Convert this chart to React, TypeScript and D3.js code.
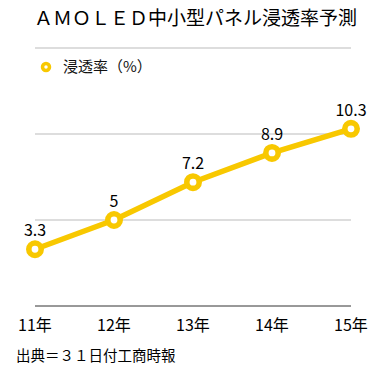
import { useEffect, useRef } from 'react';
import * as d3 from 'd3';

const YEARS = ['11年', '12年', '13年', '14年', '15年'];
const RATES = [3.3, 5, 7.2, 8.9, 10.3];
const Y_TICKS = [0, 5, 10, 15];

const TITLE = 'ＡＭＯＬＥＤ中小型パネル浸透率予測';
const LEGEND = '浸透率（%）';
const SOURCE = '出典＝３１日付工商時報';

const YELLOW = '#f8c800';
const FONT = '"Noto Sans CJK JP", "Noto Sans", sans-serif';

const App = () => {
  const svgRef = useRef<SVGSVGElement | null>(null);

  useEffect(() => {
    if (!svgRef.current) return;
    const width = 391;
    const height = 368;
    const left = 35;
    const right = 351;

    const svg = d3.select(svgRef.current);
    svg.selectAll('*').remove();
    svg.attr('width', width).attr('height', height).style('font-family', FONT);

    const x = d3.scalePoint<string>().domain(YEARS).range([left, right]);
    const y = d3.scaleLinear().domain([0, 15]).range([306, 48]);

    // title
    svg.append('text')
      .attr('x', width / 2).attr('y', 25)
      .attr('text-anchor', 'middle')
      .style('font-size', '19px')
      .style('fill', '#000')
      .text(TITLE);

    // grid lines
    svg.selectAll('line.grid')
      .data(Y_TICKS).join('line')
      .attr('class', 'grid')
      .attr('x1', left).attr('x2', right)
      .attr('y1', d => y(d)).attr('y2', d => y(d))
      .style('stroke', d => (d === 0 ? '#333' : '#bbb'))
      .style('stroke-width', 1);

    // legend
    svg.append('circle')
      .attr('cx', 46).attr('cy', 67).attr('r', 3.5)
      .style('fill', '#fff').style('stroke', YELLOW).style('stroke-width', 3.5);
    svg.append('text')
      .attr('x', 63).attr('y', 72)
      .style('font-size', '15px').style('fill', '#111')
      .text(LEGEND);

    // line
    const line = d3.line<number>()
      .x((_, i) => x(YEARS[i]) as number)
      .y(d => y(d));
    svg.append('path')
      .datum(RATES)
      .attr('d', line)
      .style('fill', 'none')
      .style('stroke', YELLOW)
      .style('stroke-width', 5.5);

    svg.selectAll('circle.pt')
      .data(RATES).join('circle')
      .attr('class', 'pt')
      .attr('cx', (_, i) => x(YEARS[i]) as number)
      .attr('cy', d => y(d))
      .attr('r', 6.2)
      .style('fill', '#fff')
      .style('stroke', YELLOW)
      .style('stroke-width', 5.6);

    // value labels
    svg.selectAll('text.val')
      .data(RATES).join('text')
      .attr('class', 'val')
      .attr('x', (_, i) => x(YEARS[i]) as number)
      .attr('y', d => y(d) - 13)
      .attr('text-anchor', 'middle')
      .style('font-size', '16px')
      .style('fill', '#000')
      .text(d => String(d));

    // x labels
    svg.selectAll('text.xl')
      .data(YEARS).join('text')
      .attr('class', 'xl')
      .attr('x', d => x(d) as number)
      .attr('y', 331)
      .attr('text-anchor', 'middle')
      .style('font-size', '16px')
      .style('fill', '#000')
      .text(d => d);

    // source
    svg.append('text')
      .attr('x', 16).attr('y', 361)
      .style('font-size', '14.5px')
      .style('fill', '#000')
      .text(SOURCE);
  }, []);

  return (
    <div style={{ position: 'absolute', top: 0, left: 0, background: '#fff' }}>
      <svg ref={svgRef} style={{ display: 'block' }} />
    </div>
  );
};

export default App;
